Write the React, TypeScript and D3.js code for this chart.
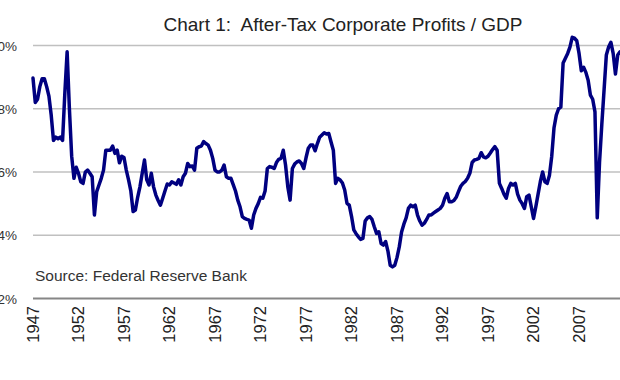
import React from "react";
import * as d3 from "d3";

// Quarterly after-tax corporate profits / GDP (%), starting 1947 Q1
const startYear = 1947;
const profitsShare: number[] = [
  // 1947
  8.97, 8.2, 8.3, 8.7,
  // 1948
  8.95, 8.95, 8.7, 8.4,
  // 1949
  7.8, 7.0, 7.1, 7.05,
  // 1950
  7.1, 7.0, 8.5, 9.8,
  // 1951
  8.0, 6.5, 5.8, 6.15,
  // 1952
  5.96, 5.69, 5.64, 6.0,
  // 1953
  6.06, 5.96, 5.85, 4.64,
  // 1954
  5.38, 5.59, 5.8, 6.06,
  // 1955
  6.69, 6.69, 6.69, 6.82,
  // 1956
  6.59, 6.69, 6.29, 6.5,
  // 1957
  6.46, 6.06, 5.75, 5.4,
  // 1958
  4.75, 4.8, 5.2, 5.53,
  // 1959
  5.96, 6.38, 5.75, 5.59,
  // 1960
  5.96, 5.53, 5.27, 5.1,
  // 1961
  4.95, 5.17, 5.4, 5.62,
  // 1962
  5.59, 5.69, 5.65, 5.61,
  // 1963
  5.75, 5.59, 5.85, 5.96,
  // 1964
  6.27, 6.17, 6.19, 6.06,
  // 1965
  6.75, 6.8, 6.82, 6.96,
  // 1966
  6.9, 6.85, 6.69, 6.43,
  // 1967
  6.06, 6.0, 6.0, 6.06,
  // 1968
  6.22, 5.85, 5.8, 5.8,
  // 1969
  5.6, 5.4, 5.11, 4.9,
  // 1970
  4.59, 4.53, 4.5, 4.48,
  // 1971
  4.22, 4.64, 4.85, 5.0,
  // 1972
  5.2, 5.17, 5.4, 6.11,
  // 1973
  6.17, 6.15, 6.11, 6.3,
  // 1974
  6.4, 6.43, 6.69, 6.22,
  // 1975
  5.53, 5.11, 6.11, 6.25,
  // 1976
  6.32, 6.35, 6.27, 6.11,
  // 1977
  6.45, 6.75, 6.85, 6.85,
  // 1978
  6.67, 6.9, 7.1, 7.17,
  // 1979
  7.24, 7.2, 7.22, 6.95,
  // 1980
  6.69, 5.64, 5.8, 5.75,
  // 1981
  5.65, 5.43, 5.01, 4.95,
  // 1982
  4.6, 4.17, 4.05, 3.95,
  // 1983
  3.87, 3.9, 4.45, 4.55,
  // 1984
  4.59, 4.5, 4.27, 4.06,
  // 1985
  4.11, 3.74, 3.69, 3.8,
  // 1986
  3.5, 3.05, 3.0, 3.05,
  // 1987
  3.3, 3.64, 4.1, 4.35,
  // 1988
  4.55, 4.85, 4.95, 4.9,
  // 1989
  4.95, 4.64, 4.45, 4.32,
  // 1990
  4.38, 4.5, 4.64, 4.64,
  // 1991
  4.7, 4.75, 4.8, 4.85,
  // 1992
  4.95, 5.17, 5.32, 5.06,
  // 1993
  5.06, 5.1, 5.2, 5.38,
  // 1994
  5.55, 5.64, 5.7, 5.8,
  // 1995
  5.96, 6.3, 6.38, 6.4,
  // 1996
  6.43, 6.61, 6.48, 6.45,
  // 1997
  6.5, 6.6, 6.71, 6.8,
  // 1998
  6.69, 5.64, 5.48, 5.3,
  // 1999
  5.17, 5.48, 5.64, 5.59,
  // 2000
  5.64, 5.3, 5.11, 5.0,
  // 2001
  4.85, 5.22, 5.27, 4.9,
  // 2002
  4.53, 4.9, 5.3, 5.7,
  // 2003
  6.0, 5.69, 5.64, 5.9,
  // 2004
  6.5, 7.4, 7.8, 8.0,
  // 2005
  8.05, 9.45, 9.6, 9.75,
  // 2006
  9.95, 10.26, 10.23, 10.15,
  // 2007
  9.75, 9.2, 9.31, 9.15,
  // 2008
  8.9, 8.43, 8.3, 7.9,
  // 2009
  4.55, 6.3, 7.5, 8.6,
  // 2010
  9.7, 9.95, 10.1, 9.75,
  // 2011
  9.1, 9.7, 9.8,
];

const tickYears: number[] = [1947, 1952, 1957, 1962, 1967, 1972, 1977, 1982, 1987, 1992, 1997, 2002, 2007];
const yTicks: number[] = [2, 4, 6, 8, 10];
const title = "Chart 1:  After-Tax Corporate Profits / GDP";
const source = "Source: Federal Reserve Bank";

const W = 620;
const H = 380;

export default function App() {
  const x = d3.scaleLinear().domain([1947, 2011.5]).range([33, 620]);
  const y = d3.scaleLinear().domain([2, 10]).range([298.5, 45.5]);

  const pts = profitsShare.map((v, i) => ({ t: startYear + i / 4, v }));
  const line = d3
    .line<{ t: number; v: number }>()
    .x((d) => x(d.t))
    .y((d) => y(d.v))(pts);

  const font = "Arial, 'Liberation Sans', sans-serif";

  return (
    <svg
      width={W}
      height={H}
      style={{ position: "absolute", left: 0, top: 0, display: "block", background: "#fff" }}
      fontFamily={font}
    >
      <rect x={0} y={0} width={W} height={H} fill="#fff" />
      {/* gridlines */}
      {yTicks.map((t) =>
        t === 2 ? null : (
          <line key={"g" + t} x1={33} x2={W} y1={y(t)} y2={y(t)} stroke="#c0c0c0" strokeWidth={1.6} />
        )
      )}
      {/* axis line */}
      <line x1={33} x2={W} y1={y(2)} y2={y(2)} stroke="#868686" strokeWidth={1.8} />
      {/* y labels */}
      {yTicks.map((t) => (
        <text key={"yl" + t} x={17} y={y(t)} dy="0.38em" textAnchor="end" fontSize={13.5} fill="#333">
          {t + "%"}
        </text>
      ))}
      {/* x labels */}
      {tickYears.map((yr) => (
        <text
          key={"xl" + yr}
          transform={`translate(${x(yr)},306) rotate(-90)`}
          dy="0.36em"
          textAnchor="end"
          fontSize={16.5}
          fill="#222"
        >
          {yr}
        </text>
      ))}
      {/* title */}
      <text x={343} y={31} textAnchor="middle" fontSize={19} fill="#222" style={{ whiteSpace: "pre" }}>
        {title}
      </text>
      {/* source */}
      <text x={35} y={281} fontSize={15.5} fill="#333">
        {source}
      </text>
      {/* series */}
      <path d={line || ""} fill="none" stroke="#000080" strokeWidth={3.5} strokeLinejoin="round" strokeLinecap="round" />
    </svg>
  );
}
